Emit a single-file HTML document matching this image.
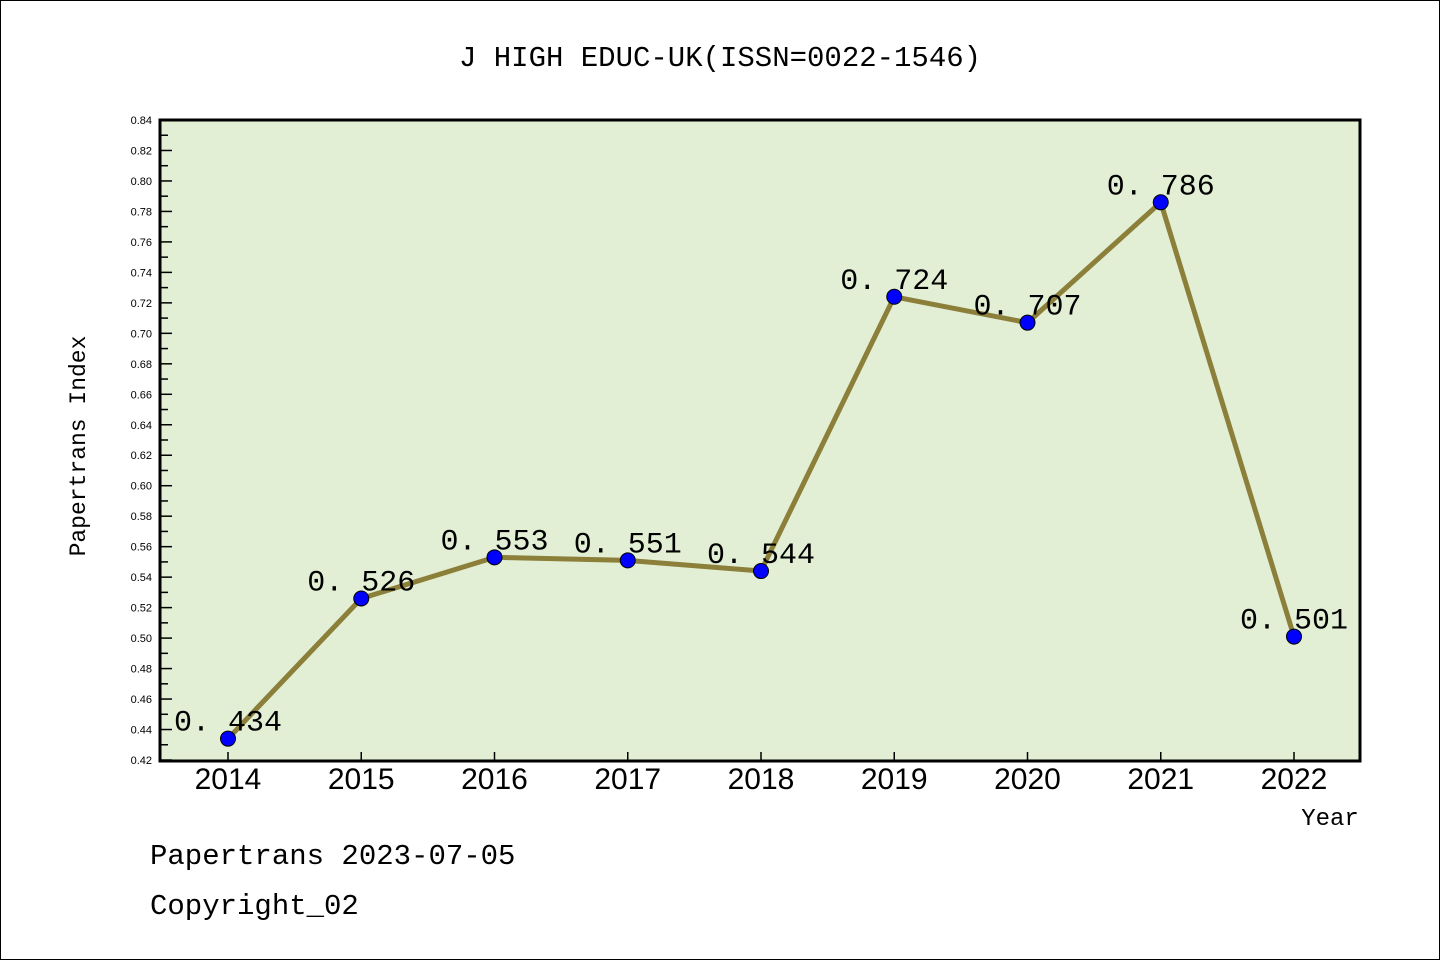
<!DOCTYPE html>
<html><head><meta charset="utf-8"><style>
body{margin:0;background:#fff}
svg text{font-family:"Liberation Mono","DejaVu Sans Mono",monospace}
</style></head><body>
<svg width="1440" height="960">
<rect x="0.5" y="0.5" width="1439" height="959" fill="#fff" stroke="#000"/>
<text x="720" y="66" text-anchor="middle" font-size="29">J HIGH EDUC-UK(ISSN=0022-1546)</text>
<rect x="160" y="120" width="1200" height="641" fill="#e2efd5" stroke="#000" stroke-width="3"/>
<g id="yaxis"></g><g id="xaxis"></g><g id="series"></g>
<text x="85" y="446" transform="rotate(-90 85 446)" text-anchor="middle" font-size="23">Papertrans Index</text>
<text x="1330" y="825" text-anchor="middle" font-size="24">Year</text>
<text x="150" y="864" font-size="29">Papertrans 2023-07-05</text>
<text x="150" y="914" font-size="29">Copyright_02</text>
</svg>
<script>
const years=["2014","2015","2016","2017","2018","2019","2020","2021","2022"];
const values=[0.434,0.526,0.553,0.551,0.544,0.724,0.707,0.786,0.501];
const yTicks=[0.42,0.44,0.46,0.48,0.50,0.52,0.54,0.56,0.58,0.60,0.62,0.64,0.66,0.68,0.70,0.72,0.74,0.76,0.78,0.80,0.82,0.84];
const NS="http://www.w3.org/2000/svg";
const y=v=>760-(v-0.42)/0.42*640;
const x=i=>228+i*133.25;
function mk(t,a,p){const e=document.createElementNS(NS,t);for(const k in a)e.setAttribute(k,a[k]);p.appendChild(e);return e;}
const ya=document.getElementById('yaxis');
yTicks.forEach((v,i)=>{
  const l=mk('line',{x1:160,x2:172,y1:y(v),y2:y(v),stroke:'#000','stroke-width':1.5},ya);
  
  
  if(i<yTicks.length-1){const m=mk('line',{x1:160,x2:168,y1:y(v+0.01),y2:y(v+0.01),stroke:'#000','stroke-width':1.5},ya);
  
  }
  const t=mk('text',{x:152,y:y(v)+4,'text-anchor':'end','font-size':11,style:'font-family:"Liberation Sans",sans-serif'},ya);
  t.textContent=v.toFixed(2);
  
  
});
const xa=document.getElementById('xaxis');
years.forEach((yr,i)=>{
  const l=mk('line',{x1:x(i),x2:x(i),y1:760,y2:752,stroke:'#000','stroke-width':1.5},xa);
  
  
  const t=mk('text',{x:x(i),y:789,'text-anchor':'middle','font-size':30,style:'font-family:"Liberation Sans",sans-serif'},xa);
  t.textContent=yr;
  
  
});
const s=document.getElementById('series');
const pl=mk('polyline',{points:values.map((v,i)=>x(i)+','+y(v)).join(' '),fill:'none',stroke:'#8b7f3a','stroke-width':5},s);


values.forEach((v,i)=>{
  const c=mk('circle',{cx:x(i),cy:y(v),r:7.5,fill:'#0000ff',stroke:'#000','stroke-width':1},s);
  
  
  const t=mk('text',{x:x(i),y:y(v)-8,'text-anchor':'middle','font-size':30},s);
  t.textContent=v.toFixed(3).replace('.','. ');
  
  
});
</script>
</body></html>
